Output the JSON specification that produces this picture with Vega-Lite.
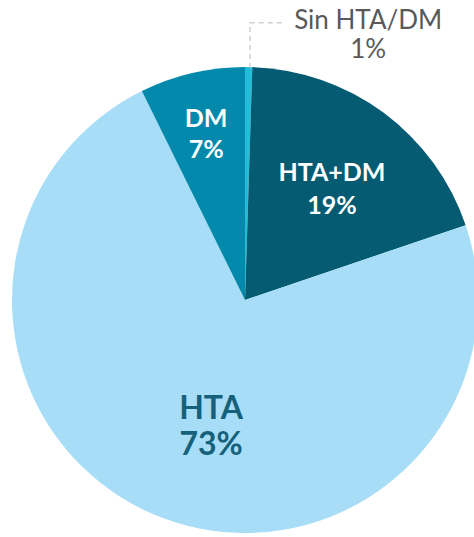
{
  "$schema": "https://vega.github.io/schema/vega-lite/v6.json",
  "autosize": "none",
  "width": 458,
  "height": 472,
  "padding": {"left": 16, "top": 64, "right": 0, "bottom": 0},
  "background": "white",
  "config": {"view": {"stroke": null}, "font": "Lato"},
  "datasets": {
    "slices": [
      {"cat": "Sin HTA/DM", "pct": "1%", "value": 0.5, "orden": 1},
      {"cat": "HTA+DM", "pct": "19%", "value": 19.3, "orden": 2},
      {"cat": "HTA", "pct": "73%", "value": 72.9, "orden": 3},
      {"cat": "DM", "pct": "7%", "value": 7.3, "orden": 4}
    ],
    "leader": [
      {"i": 1, "px": 0.0215, "py": 0.9957},
      {"i": 2, "px": 0.0215, "py": 1.19},
      {"i": 3, "px": 0.1717, "py": 1.19}
    ]
  },
  "layer": [
    {
      "data": {"name": "slices"},
      "mark": {"type": "arc", "outerRadius": 233, "stroke": null},
      "encoding": {
        "theta": {"field": "value", "type": "quantitative", "stack": true},
        "order": {"field": "orden", "type": "quantitative"},
        "color": {
          "field": "cat",
          "type": "nominal",
          "scale": {
            "domain": ["Sin HTA/DM", "HTA+DM", "HTA", "DM"],
            "range": ["#22bdd8", "#045b72", "#a7ddf6", "#0289ab"]
          },
          "legend": null
        }
      }
    },
    {
      "data": {"name": "slices"},
      "mark": {
        "type": "text",
        "align": "center",
        "baseline": "middle",
        "font": "Lato",
        "text": {"expr": "[datum.cat, datum.pct]"},
        "radius": {"expr": "datum.cat == 'HTA' ? 133 : datum.cat == 'HTA+DM' ? 141 : datum.cat == 'DM' ? 171 : 264"},
        "dx": {"expr": "datum.cat == 'HTA' ? 17 : datum.cat == 'HTA+DM' ? 3 : datum.cat == 'DM' ? 0 : 119"},
        "dy": {"expr": "datum.cat == 'Sin HTA/DM' ? -15 : -14"},
        "fontSize": {"expr": "datum.cat == 'HTA' ? 32 : datum.cat == 'HTA+DM' ? 25 : datum.cat == 'DM' ? 25 : 26"},
        "lineHeight": {"expr": "datum.cat == 'HTA' ? 36 : datum.cat == 'HTA+DM' ? 33 : datum.cat == 'DM' ? 31 : 29"},
        "fontWeight": {"expr": "datum.cat == 'Sin HTA/DM' ? 'normal' : 'bold'"},
        "fill": {"expr": "datum.cat == 'HTA' ? '#15607a' : datum.cat == 'Sin HTA/DM' ? '#595959' : '#ffffff'"}
      },
      "encoding": {
        "theta": {"field": "value", "type": "quantitative", "stack": true},
        "order": {"field": "orden", "type": "quantitative"}
      }
    },
    {
      "data": {"name": "leader"},
      "mark": {"type": "line", "stroke": "#cfcfcf", "strokeWidth": 1.5, "strokeDash": [5, 4]},
      "encoding": {
        "x": {"field": "px", "type": "quantitative", "scale": {"domain": [-0.98283, 0.98283]}, "axis": null},
        "y": {"field": "py", "type": "quantitative", "scale": {"domain": [-1.01288, 1.01288]}, "axis": null},
        "order": {"field": "i", "type": "quantitative"}
      }
    }
  ]
}
